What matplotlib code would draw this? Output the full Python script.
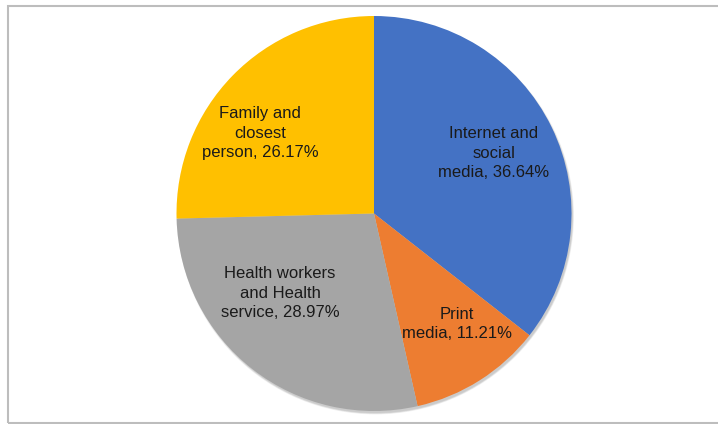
import matplotlib.pyplot as plt
from matplotlib.patches import Rectangle, Circle

plt.rcParams['font.family'] = ['Liberation Sans', 'DejaVu Sans']

labels = ['Internet and\nsocial\nmedia, 36.64%',
          'Print\nmedia, 11.21%',
          'Health workers\nand Health\nservice, 28.97%',
          'Family and\nclosest\nperson, 26.17%']
values = [36.64, 11.21, 28.97, 26.17]
colors = ['#4472C4', '#ED7D31', '#A5A5A5', '#FFC000']

W, H = 718, 424
fig = plt.figure(figsize=(W / 100, H / 100), dpi=100)
ax = fig.add_axes([0, 0, 1, 1])

# outer frame (chart area border)
ax.add_patch(Rectangle((7.5, 1.5), W + 10, 417, fill=False,
                       edgecolor='#BDBDBD', linewidth=1.5))

cx, cy, r = 374, 210.5, 197.5

# soft shadow under the pie
for i in range(6):
    ax.add_patch(Circle((cx + 1.5, cy - 2.5), r + 1 - i * 0.3,
                        color='black', alpha=0.035, linewidth=0))

ax.pie(values, colors=colors, startangle=90, counterclock=False,
       center=(cx, cy), radius=r, frame=True,
       wedgeprops=dict(linewidth=0))
ax.set_xlim(0, W)
ax.set_ylim(0, H)
ax.set_aspect('equal')
ax.axis('off')

# label anchor points (pixel coordinates, y from top)
label_pos = [(494, 153), (457, 324), (280, 293), (260, 133)]
for txt, (x, y) in zip(labels, label_pos):
    ax.text(x, H - y, txt, ha='center', va='center', multialignment='center',
            fontsize=12, color='#1a1a1a', linespacing=1.35)

fig.savefig('out.png', dpi=100)
